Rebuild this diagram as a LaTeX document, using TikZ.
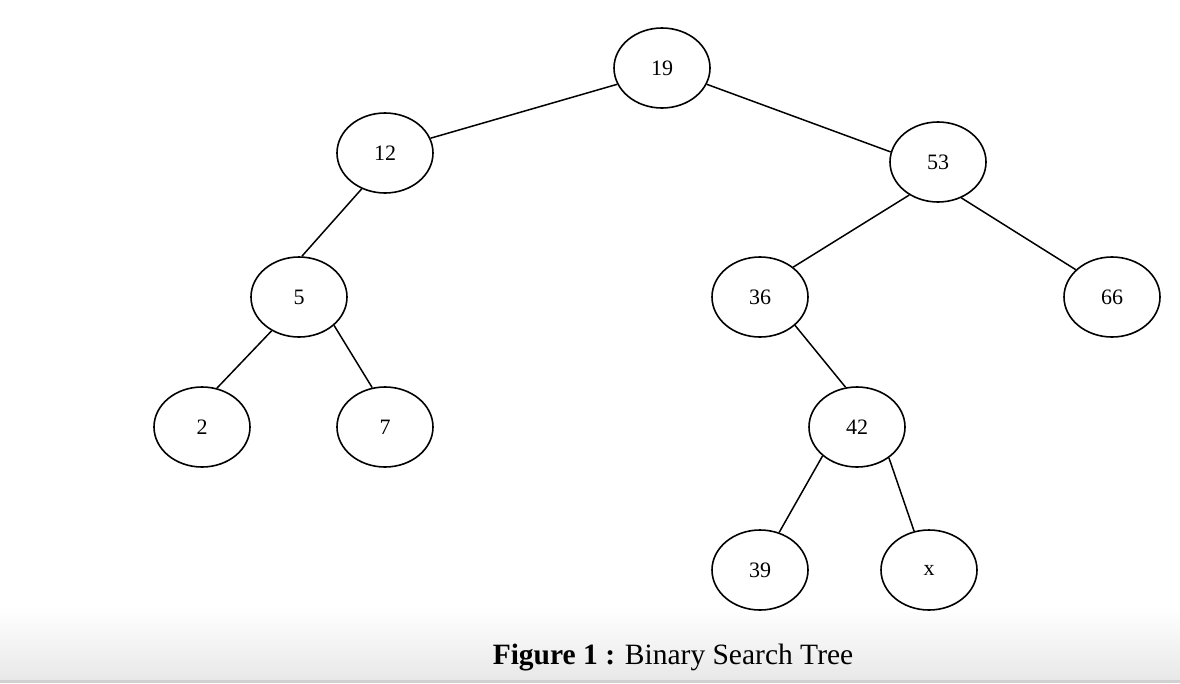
\documentclass[tikz,border=0pt]{standalone}
\usepackage{fontspec}
\setmainfont{Liberation Serif}
\usetikzlibrary{shapes.geometric}
\begin{document}
\begin{tikzpicture}[x=1pt,y=-1pt,
  tn/.style={draw,ellipse,line width=1.6pt,minimum width=96pt,minimum height=80pt,inner sep=0pt,font=\fontsize{22}{24}\selectfont},
  ed/.style={line width=1.5pt}]
\useasboundingbox (0,0) rectangle (1180,683);
\shade[top color=white,bottom color=black!9] (0,608) rectangle (1180,680);
\fill[black!18] (0,680) rectangle (1180,683);
\node[tn] (n19) at (662,68) {19};
\node[tn] (n12) at (385,153) {12};
\node[tn] (n53) at (938,162) {53};
\node[tn] (n5) at (299,297) {5};
\node[tn] (n36) at (760,297) {36};
\node[tn] (n66) at (1112,297) {66};
\node[tn] (n2) at (202,427) {2};
\node[tn] (n7) at (385,427) {7};
\node[tn] (n42) at (857,427) {42};
\node[tn] (n39) at (760,570) {39};
\node[tn] (nx) at (929,570) {x};
\draw[ed] (n19.200) -- (n12.18);
\draw[ed] (n19.340) -- (n53.168);
\draw[ed] (n53.229) -- (n36.42);
\draw[ed] (n53.303) -- (n66.143);
\draw[ed] (n12.237) -- (n5.86);
\draw[ed] (n5.231) -- (n2.69);
\draw[ed] (n5.321) -- (n7.108);
\draw[ed] (n36.321) -- (n42.106);
\draw[ed] (n42.220) -- (n39.63);
\draw[ed] (n42.316) -- (nx.111);
\node[font=\fontsize{29.5}{32}\selectfont] (cap) at (673,658) {\textbf{Figure 1 :} Binary Search Tree};
\end{tikzpicture}
\end{document}
